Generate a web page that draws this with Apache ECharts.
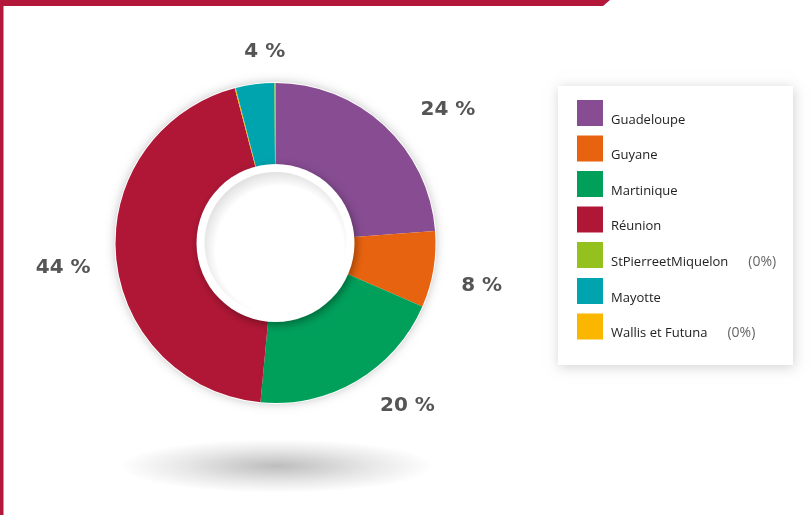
<!DOCTYPE html>
<html>
<head>
<meta charset="utf-8">
<script src="https://cdn.jsdelivr.net/npm/echarts@6/dist/echarts.min.js"></script>
<style>
  html, body { margin: 0; padding: 0; background: #fff; }
  #chart { width: 810px; height: 515px; }
</style>
</head>
<body>
<div id="chart"></div>
<script>
// slices in drawing order (clockwise from 12 o'clock)
let categories = ['Guadeloupe', 'Guyane', 'Martinique', 'Réunion', 'Wallis et Futuna', 'Mayotte', 'StPierreetMiquelon'];
let shares = [23.8, 7.7, 20.0, 44.4, 0.1, 3.9, 0.1];
let colors = ['#874c92', '#e8630f', '#00a05b', '#b01736', '#fbb600', '#00a4ae', '#95c11f'];
// legend shows them in another order
let legendOrder = ['Guadeloupe', 'Guyane', 'Martinique', 'Réunion', 'StPierreetMiquelon', 'Mayotte', 'Wallis et Futuna'];
let zeroNote = { 'StPierreetMiquelon': '(0%)', 'Wallis et Futuna': '(0%)' };

// nudges for the percentage labels (they're hand placed in the original)
let labelShift = {
    'Guadeloupe': [31, 19],
    'Guyane': [1, 8],
    'Martinique': [26, -16],
    'Réunion': [-5, 8],
    'Mayotte': [16, 15]
};

let cx = 275.5, cy = 243;
let red = '#b3173a';

let pieData = categories.map(function (name, i) {
    return { name: name, value: shares[i], itemStyle: { color: colors[i] } };
});
let labelData = categories.map(function (name, i) {
    return {
        name: name,
        value: shares[i],
        label: { offset: labelShift[name] || [0, 0] }
    };
});

let myChart = echarts.init(document.getElementById('chart'));
let option = {
    animation: false,
    backgroundColor: '#fff',
    graphic: [
        // red frame
        { type: 'rect', z: 0, shape: { x: 0, y: 0, width: 3.5, height: 515 }, style: { fill: red } },
        { type: 'polygon', z: 0, shape: { points: [[0, 0], [610, 0], [603, 6], [0, 6]] }, style: { fill: red } },
        // floor shadow
        {
            type: 'circle', z: 0, x: 277, y: 466, scaleY: 0.17,
            shape: { cx: 0, cy: 0, r: 158 },
            style: {
                fill: {
                    type: 'radial', x: 0.5, y: 0.5, r: 0.5,
                    colorStops: [
                        { offset: 0, color: 'rgba(0,0,0,0.26)' },
                        { offset: 0.6, color: 'rgba(0,0,0,0.09)' },
                        { offset: 1, color: 'rgba(0,0,0,0)' }
                    ]
                }
            }
        },
        // soft halo behind the donut
        {
            type: 'circle', z: 0, shape: { cx: cx, cy: cy, r: 161 },
            style: { fill: '#fff', shadowBlur: 10, shadowColor: 'rgba(0,0,0,0.22)' }
        },
        // white ring in the hole
        {
            type: 'circle', z: 10, shape: { cx: cx, cy: cy, r: 79 },
            style: { fill: '#fff', shadowBlur: 8, shadowOffsetX: 2, shadowOffsetY: 3, shadowColor: 'rgba(0,0,0,0.35)' }
        },
        {
            type: 'circle', z: 11, shape: { cx: cx, cy: cy, r: 71 },
            style: {
                fill: {
                    type: 'radial', x: 0.53, y: 0.55, r: 0.55,
                    colorStops: [
                        { offset: 0, color: '#ffffff' },
                        { offset: 0.82, color: '#ffffff' },
                        { offset: 1, color: '#e2e2e2' }
                    ]
                }
            }
        },
        // legend card
        {
            type: 'rect', z: 0, shape: { x: 558, y: 86, width: 235, height: 279 },
            style: { fill: '#fff', shadowBlur: 12, shadowOffsetX: 1, shadowOffsetY: 2, shadowColor: 'rgba(0,0,0,0.18)' }
        }
    ],
    legend: {
        orient: 'vertical',
        left: 572,
        top: 95,
        itemWidth: 26,
        itemHeight: 26,
        itemGap: 9,
        icon: 'rect',
        selectedMode: false,
        data: legendOrder,
        formatter: function (name) {
            return zeroNote[name] ? '{n|' + name + '}{z|' + zeroNote[name] + '}' : '{n|' + name + '}';
        },
        textStyle: {
            padding: [14, 0, 0, 3],
            rich: {
                n: { fontFamily: 'Open Sans', fontSize: 13, color: '#222' },
                z: { fontFamily: 'Open Sans', fontSize: 14, color: '#666', padding: [0, 0, 0, 20] }
            }
        }
    },
    series: [
        {
            type: 'pie',
            z: 2,
            center: [cx, cy],
            radius: [72, 160],
            startAngle: 90,
            label: { show: false },
            labelLine: { show: false },
            emphasis: { disabled: true },
            data: pieData
        },
        {
            // invisible ring that only carries the percentage labels
            type: 'pie',
            z: 3,
            silent: true,
            center: [cx, cy],
            radius: [200, 210],
            startAngle: 90,
            itemStyle: { color: 'rgba(0,0,0,0)' },
            label: {
                show: true,
                position: 'inside',
                fontFamily: 'DejaVu Sans',
                fontWeight: 'bold',
                fontSize: 20,
                color: '#555555',
                formatter: function (p) {
                    return p.value < 1 ? '' : Math.round(p.value) + ' %';
                }
            },
            labelLine: { show: false },
            emphasis: { disabled: true },
            data: labelData
        }
    ]
};
myChart.setOption(option, true);
</script>
</body>
</html>
